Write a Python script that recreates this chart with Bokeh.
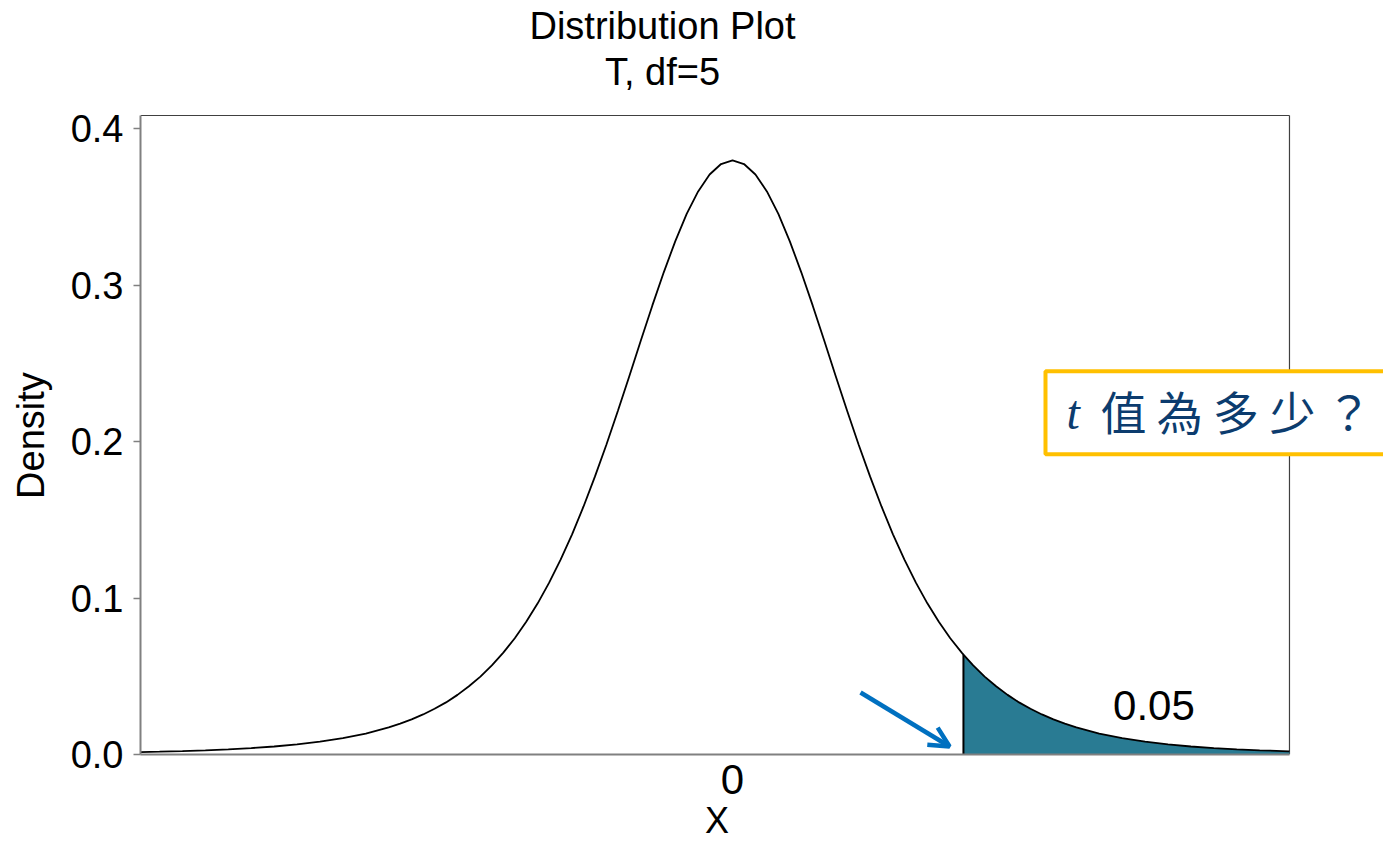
from bokeh.plotting import figure
from bokeh.models import Label, Arrow, OpenHead, FixedTicker, Range1d, PrintfTickFormatter
from bokeh.embed import file_html
from bokeh.resources import INLINE

# ---- data (t distribution, df = 5) ----
x_vals = [-5.166, -5.0, -4.8, -4.6, -4.4, -4.2, -4.0, -3.8, -3.6, -3.4, -3.2,
          -3.0, -2.9, -2.8, -2.7, -2.6, -2.5, -2.4, -2.3, -2.2, -2.1,
          -2.0, -1.9, -1.8, -1.7, -1.6, -1.5, -1.4, -1.3, -1.2, -1.1,
          -1.0, -0.9, -0.8, -0.7, -0.6, -0.5, -0.4, -0.3, -0.2, -0.1,
          0.0, 0.1, 0.2, 0.3, 0.4, 0.5, 0.6, 0.7, 0.8, 0.9,
          1.0, 1.1, 1.2, 1.3, 1.4, 1.5, 1.6, 1.7, 1.8, 1.9,
          2.0, 2.015, 2.1, 2.2, 2.3, 2.4, 2.5, 2.6, 2.7, 2.8, 2.9,
          3.0, 3.2, 3.4, 3.6, 3.8, 4.0, 4.2, 4.4, 4.6, 4.8, 4.86]
density = [0.0015, 0.0018, 0.0022, 0.0027, 0.0033, 0.0041, 0.0051, 0.0065, 0.0082, 0.0104, 0.0134,
           0.0173, 0.0197, 0.0224, 0.0256, 0.0292, 0.0333, 0.0381, 0.0436, 0.0498, 0.0569,
           0.0651, 0.0743, 0.0848, 0.0966, 0.1098, 0.1245, 0.1407, 0.1585, 0.1777, 0.1981,
           0.2197, 0.2419, 0.2645, 0.2868, 0.3081, 0.3279, 0.3454, 0.3598, 0.3706, 0.3773,
           0.3796, 0.3773, 0.3706, 0.3598, 0.3454, 0.3279, 0.3081, 0.2868, 0.2645, 0.2419,
           0.2197, 0.1981, 0.1777, 0.1585, 0.1407, 0.1245, 0.1098, 0.0966, 0.0848, 0.0743,
           0.0651, 0.0638, 0.0569, 0.0498, 0.0436, 0.0381, 0.0333, 0.0292, 0.0256, 0.0224, 0.0197,
           0.0173, 0.0134, 0.0104, 0.0082, 0.0065, 0.0051, 0.0041, 0.0033, 0.0027, 0.0022, 0.0020]
t_crit = 2.015
tail_prob_label = "0.05"
x_ticks = [0]
y_ticks = [0.0, 0.1, 0.2, 0.3, 0.4]
title_lines = ["Distribution Plot", "T, df=5"]
x_label = "X"
y_label = "Density"
question_t = "t"
question_rest = "值 為 多 少 ？"

# plotted region (axes box) limits
X_MIN, X_MAX = -5.166, 4.86
Y_MIN, Y_MAX = 0.0, 0.4083

# shaded right tail built from the arrays above
tail_x = [x for x in x_vals if x >= t_crit]
tail_y = [d for x, d in zip(x_vals, density) if x >= t_crit]
crit_y = tail_y[0]

FONT = "Liberation Sans"
BLUE_TEXT = "#0c3c6e"
NBSP = "\u00a0"

# the frame spans to the top and right page edges so titles and the callout box are not clipped;
# the visible axes box is drawn with axis bounds and border segments
p = figure(width=1383, height=844, output_backend="svg", toolbar_location=None,
           x_range=Range1d(X_MIN, 5.6804), y_range=Range1d(Y_MIN, 0.48179),
           min_border_left=140, min_border_right=0, min_border_top=0, min_border_bottom=90,
           background_fill_color="white", border_fill_color="white")
p.xgrid.visible = False
p.ygrid.visible = False
p.outline_line_color = None

# top and right borders of the axes box
p.segment(x0=[X_MIN, X_MAX], y0=[Y_MAX, Y_MIN], x1=[X_MAX, X_MAX], y1=[Y_MAX, Y_MAX],
          line_color="#404040", line_width=1.2)

# tail shading
p.varea(x=tail_x, y1=[0] * len(tail_x), y2=tail_y, fill_color="#297b93")
p.segment(x0=[t_crit], y0=[0], x1=[t_crit], y1=[crit_y], line_color="black", line_width=2)
# density curve
p.line(x_vals, density, line_color="black", line_width=1.8)

# axes (labels padded with no-break spaces so they centre on the axes box, not the wider frame)
xa = p.xaxis[0]
xa.bounds = (X_MIN, X_MAX)
xa.ticker = FixedTicker(ticks=x_ticks)
xa.major_tick_out = 0
xa.major_tick_in = 0
xa.minor_tick_line_color = None
xa.axis_line_color = "#808080"
xa.axis_line_width = 2
xa.major_label_text_font = FONT
xa.major_label_text_font_size = "42px"
xa.major_label_text_color = "black"
xa.major_label_standoff = 10
xa.axis_label = x_label + NBSP * 9
xa.axis_label_text_font = FONT
xa.axis_label_text_font_size = "36px"
xa.axis_label_text_font_style = "normal"
xa.axis_label_text_color = "black"
xa.axis_label_standoff = 3

ya = p.yaxis[0]
ya.bounds = (Y_MIN, Y_MAX)
ya.ticker = FixedTicker(ticks=y_ticks)
ya.formatter = PrintfTickFormatter(format="%.1f")
ya.major_tick_out = 7
ya.major_tick_in = 0
ya.major_tick_line_color = "#808080"
ya.major_tick_line_width = 1.5
ya.minor_tick_line_color = None
ya.axis_line_color = "#808080"
ya.axis_line_width = 2
ya.major_label_text_font = FONT
ya.major_label_text_font_size = "38px"
ya.major_label_text_color = "black"
ya.major_label_standoff = 10
ya.axis_label = y_label + NBSP * 11
ya.axis_label_text_font = FONT
ya.axis_label_text_font_size = "38px"
ya.axis_label_text_font_style = "normal"
ya.axis_label_text_color = "black"
ya.axis_label_standoff = 16

# title lines
for txt, yy in zip(title_lines, [0.4658, 0.4358]):
    p.add_layout(Label(x=-0.611, y=yy, text=txt, text_font=FONT, text_font_size="38px",
                       text_color="black", text_align="center", text_baseline="middle"))

# tail probability label
p.add_layout(Label(x=3.677, y=0.0313, text=tail_prob_label, text_font=FONT,
                   text_font_size="42px", text_color="black",
                   text_align="center", text_baseline="middle"))

# arrow
p.add_layout(Arrow(end=OpenHead(line_color="#0070C0", line_width=4.5, size=20),
                   x_start=1.117, y_start=0.0396, x_end=1.894, y_end=0.0051,
                   line_color="#0070C0", line_width=4.5))

# question box (padding: left, right, top, bottom)
p.add_layout(Label(x=2.731, y=0.2183, text=question_rest, text_font="Noto Sans CJK TC",
                   text_font_size="46px", text_color=BLUE_TEXT,
                   text_align="left", text_baseline="middle",
                   background_fill_color="white", border_line_color="#FFC000",
                   border_line_width=4, padding=(55, 150, 6, 11)))
p.add_layout(Label(x=2.9145, y=0.2185, text=question_t, text_font="Liberation Serif",
                   text_font_style="italic", text_font_size="48px", text_color=BLUE_TEXT,
                   text_align="left", text_baseline="alphabetic"))

open("out.html", "w").write(file_html(p, INLINE))
